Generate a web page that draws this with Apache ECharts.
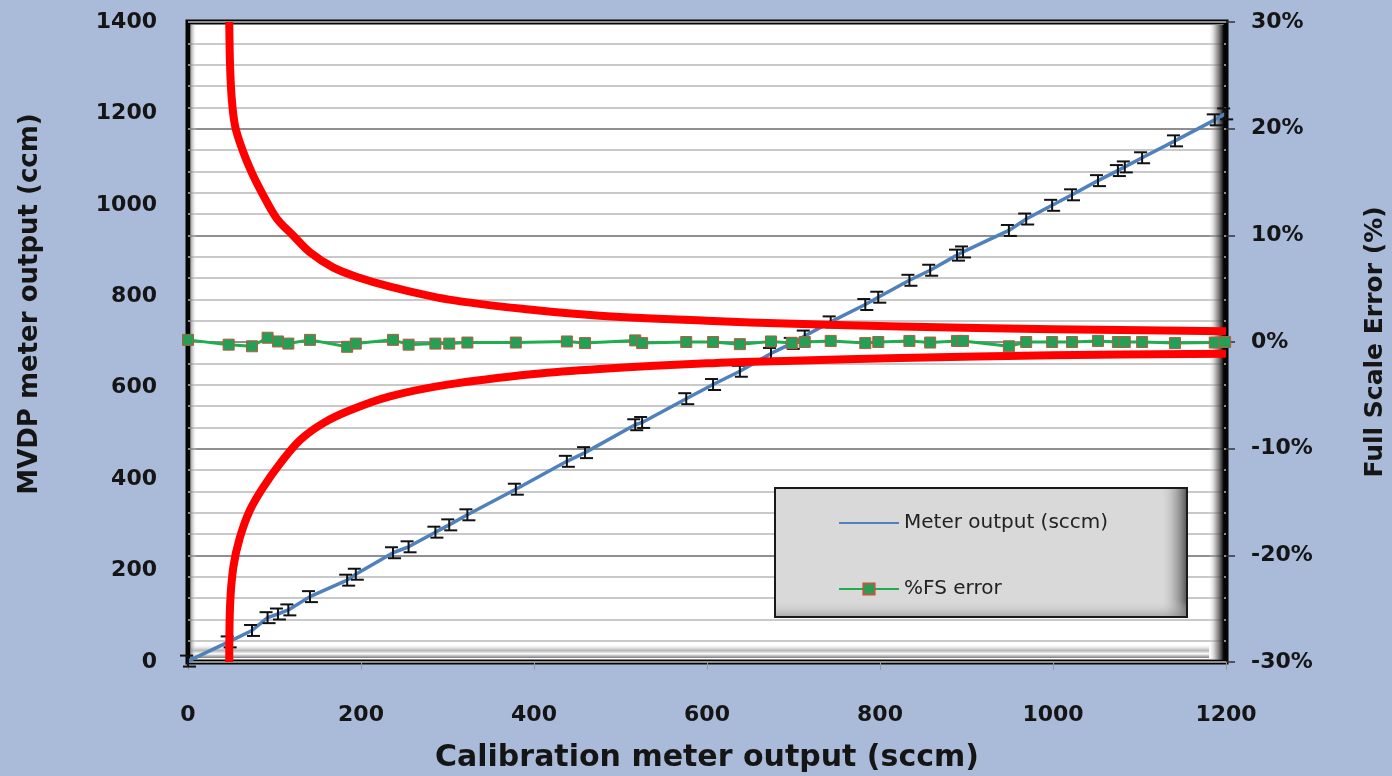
<!DOCTYPE html>
<html><head><meta charset="utf-8">
<script src="https://cdn.jsdelivr.net/npm/echarts@6/dist/echarts.min.js"></script>
<style>html,body{margin:0;padding:0;background:#a9bbd8}#c{width:1392px;height:776px}</style>
</head><body><div id="c"></div>
<script>
// ---- data ----
const calibration = [0, 47, 74, 92, 104, 116, 141, 184, 194, 237, 255, 286, 302, 323, 379, 438, 459, 517, 525, 576, 607, 638, 674, 698, 713, 743, 783, 798, 834, 858, 889, 896, 949, 969, 999, 1022, 1052, 1075, 1083, 1103, 1141, 1187, 1199];
const meterOutput = [2, 44, 69, 97, 105, 114, 143, 179, 192, 239, 252, 284, 300, 322, 378, 439, 458, 519, 524, 576, 607, 636, 675, 697, 713, 744, 782, 798, 835, 857, 890, 897, 944, 969, 999, 1022, 1053, 1075, 1083, 1103, 1140, 1186, 1199];
const fsError = [0.2, -0.25, -0.4, 0.4, 0.05, -0.15, 0.2, -0.45, -0.15, 0.2, -0.25, -0.15, -0.15, -0.05, -0.05, 0.05, -0.1, 0.15, -0.1, 0, 0, -0.2, 0.05, -0.1, 0, 0.1, -0.1, 0, 0.1, -0.05, 0.1, 0.1, -0.4, 0, 0, 0, 0.1, 0, 0, 0, -0.1, -0.05, 0];
const meterErrorBar = 12;
const upperLimitX = [47.7, 48.6, 50.5, 54.3, 62.1, 73.6, 86.7, 102.5, 121.4, 141.1, 167.6, 195.4, 233.5, 300, 400, 476, 600, 700, 823, 1000, 1200];
const upperLimit = [30.0, 26.0, 22.9, 20.3, 18.2, 15.9, 13.8, 11.6, 10.0, 8.4, 7.0, 6.1, 5.2, 4.0, 3.0, 2.47, 2.0, 1.7, 1.46, 1.2, 1.0];
const lowerLimitX = [47.7, 48.6, 52.4, 60.1, 71.7, 87.1, 106.4, 129.5, 156.4, 187.3, 233.5, 300, 400, 476, 600, 700, 823, 1000, 1200];
const lowerLimit = [-30.0, -24.8, -21.1, -18.3, -15.75, -13.6, -11.4, -9.2, -7.6, -6.4, -5.1, -4.0, -3.0, -2.53, -2.0, -1.75, -1.5, -1.25, -1.1];
const seriesNames = ['Meter output (sccm)', '%FS error'];
const xTitle = 'Calibration meter output (sccm)';
const yLeftTitle = 'MVDP meter output (ccm)';
const yRightTitle = 'Full Scale Error (%)';

const zip = (a, b) => a.map((v, i) => [v, b[i]]);
const FONT = 'DejaVu Sans';
const chart = echarts.init(document.getElementById('c'), null, {renderer: 'canvas'});

const G = {l: 188, t: 22, r: 1226, b: 662};

chart.setOption({
  backgroundColor: '#a9bbd8',
  animation: false,
  grid: {left: G.l, right: 1392 - G.r, top: G.t, bottom: 776 - G.b, show: true,
    containLabel: false, outerBoundsMode: 'none',
    backgroundColor: '#ffffff', borderColor: '#050505', borderWidth: 5},
  legend: {
    data: [{name: seriesNames[0], itemStyle: {opacity: 0}}, {name: seriesNames[1]}],
    orient: 'vertical', left: 833, top: 508,
    itemWidth: 60, itemHeight: 14, itemGap: 46,
    textStyle: {fontFamily: FONT, fontSize: 20, color: '#222'},
    z: 10
  },
  xAxis: {
    type: 'value', min: 0, max: 1200, interval: 200,
    axisLine: {show: false},
    axisTick: {show: true, length: 8, lineStyle: {color: '#999', width: 1}},
    axisLabel: {margin: 42, fontFamily: FONT, fontWeight: 'bold', fontSize: 22, color: '#151515', formatter: v => String(v)},
    splitLine: {show: false},
    name: xTitle, nameLocation: 'middle', nameGap: 81,
    nameTextStyle: {fontFamily: FONT, fontWeight: 'bold', fontSize: 30, color: '#151515'}
  },
  yAxis: [{
    type: 'value', min: 0, max: 1400, interval: 200, position: 'left',
    axisLine: {show: false}, axisTick: {show: false},
    axisLabel: {margin: 31, fontFamily: FONT, fontWeight: 'bold', fontSize: 22, color: '#151515', formatter: v => String(v)},
    splitLine: {show: false},
    name: yLeftTitle, nameLocation: 'middle', nameGap: 145, nameRotate: 90,
    nameTextStyle: {fontFamily: FONT, fontWeight: 'bold', fontSize: 26, color: '#151515', padding: [0, 0, 0, 76]}
  }, {
    type: 'value', min: -30, max: 30, interval: 10, position: 'right',
    axisLine: {show: false},
    axisTick: {show: true, length: 9, lineStyle: {color: '#333', width: 1.5}},
    minorTick: {show: false, splitNumber: 5},
    axisLabel: {margin: 25, fontFamily: FONT, fontWeight: 'bold', fontSize: 22, color: '#151515', formatter: '{value}%'},
    splitLine: {show: true, lineStyle: {color: '#8f8f8f', width: 2}},
    minorSplitLine: {show: true, lineStyle: {color: '#b8b8b8', width: 1.5}},
    name: yRightTitle, nameLocation: 'middle', nameGap: 137, nameRotate: 90,
    nameTextStyle: {fontFamily: FONT, fontWeight: 'bold', fontSize: 25, color: '#151515'}
  }],
  graphic: [
    {type: 'rect', z: 1, shape: {x: G.r - 18, y: G.t + 3, width: 16, height: G.b - G.t - 5},
      style: {fill: new echarts.graphic.LinearGradient(0, 0, 1, 0, [
        {offset: 0, color: 'rgba(255,255,255,0)'}, {offset: 0.5, color: 'rgba(120,120,120,0.6)'}, {offset: 1, color: 'rgba(0,0,0,1)'}])}},
    {type: 'rect', z: 1, shape: {x: G.l + 3, y: G.b - 18, width: G.r - G.l - 20, height: 14},
      style: {fill: new echarts.graphic.LinearGradient(0, 0, 0, 1, [
        {offset: 0, color: 'rgba(255,255,255,0)'}, {offset: 0.45, color: 'rgba(150,150,150,0.7)'}, {offset: 0.7, color: 'rgba(255,255,255,0.9)'}, {offset: 1, color: 'rgba(90,90,90,0.8)'}])}},
    {type: 'rect', z: 1, shape: {x: G.l + 2, y: G.t + 3, width: 7, height: G.b - G.t - 6},
      style: {fill: new echarts.graphic.LinearGradient(0, 0, 1, 0, [
        {offset: 0, color: 'rgba(110,110,110,0.8)'}, {offset: 1, color: 'rgba(255,255,255,0)'}])}},
    {type: 'rect', z: 8, shape: {x: 775, y: 488, width: 412, height: 129},
      style: {fill: '#d9d9d9', stroke: '#1a1a1a', lineWidth: 2}},
    {type: 'rect', z: 8, shape: {x: 1160, y: 489, width: 26, height: 127},
      style: {fill: new echarts.graphic.LinearGradient(0, 0, 1, 0, [
        {offset: 0, color: 'rgba(217,217,217,0)'}, {offset: 1, color: 'rgba(80,80,80,0.9)'}])}},
    {type: 'rect', z: 8, shape: {x: 776, y: 600, width: 410, height: 16},
      style: {fill: new echarts.graphic.LinearGradient(0, 0, 0, 1, [
        {offset: 0, color: 'rgba(217,217,217,0)'}, {offset: 1, color: 'rgba(150,150,150,0.6)'}])}}
  ],
  series: [
    {
      name: seriesNames[0], type: 'line', yAxisIndex: 0, z: 2,
      data: zip(calibration, meterOutput), showSymbol: false, symbol: 'none',
      lineStyle: {color: '#4f81bd', width: 3.5}, itemStyle: {color: '#4f81bd'}
    },
    {
      name: 'errorbars', type: 'custom', yAxisIndex: 0, z: 3,
      data: zip(calibration, meterOutput),
      renderItem: function (params, api) {
        const x = api.value(0), y = api.value(1);
        const top = api.coord([x, y + meterErrorBar]);
        const bot = api.coord([x, y - meterErrorBar]);
        const s = {stroke: '#111', lineWidth: 2};
        return {type: 'group', children: [
          {type: 'line', shape: {x1: top[0], y1: top[1], x2: bot[0], y2: bot[1]}, style: s},
          {type: 'line', shape: {x1: top[0] - 8, y1: top[1], x2: top[0] + 5, y2: top[1]}, style: s},
          {type: 'line', shape: {x1: bot[0] - 5, y1: bot[1], x2: bot[0] + 8, y2: bot[1]}, style: s}
        ]};
      }
    },
    {
      name: 'upper', type: 'line', yAxisIndex: 1, z: 4, data: zip(upperLimitX, upperLimit),
      showSymbol: false, symbol: 'none', smooth: 0.35,
      lineStyle: {color: '#ff0000', width: 8, join: 'round'}
    },
    {
      name: 'lower', type: 'line', yAxisIndex: 1, z: 4, data: zip(lowerLimitX, lowerLimit),
      showSymbol: false, symbol: 'none', smooth: 0.35,
      lineStyle: {color: '#ff0000', width: 8, join: 'round'}
    },
    {
      name: seriesNames[1], type: 'line', yAxisIndex: 1, z: 5,
      data: zip(calibration, fsError),
      symbol: 'rect', symbolSize: 11, showSymbol: true,
      lineStyle: {color: '#1fae4d', width: 3},
      itemStyle: {color: '#23a055', borderColor: '#b85a3e', borderWidth: 1}
    }
  ]
});
</script>
</body></html>
